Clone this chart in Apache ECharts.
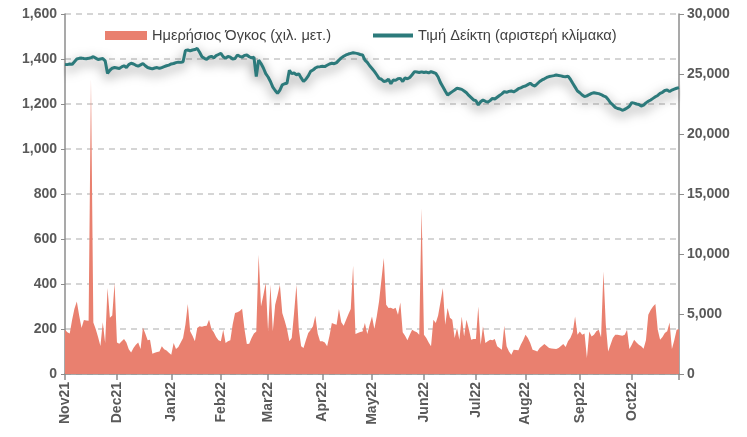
<!DOCTYPE html>
<html>
<head>
<meta charset="utf-8">
<script src="https://cdn.jsdelivr.net/npm/echarts@6/dist/echarts.min.js"></script>
<style>html,body{margin:0;padding:0;background:#fff}#c{width:747px;height:437px}</style>
</head>
<body>
<div id="c"></div>
<script>
// Month labels and trading days per month
const monthLabels = ['Nov21','Dec21','Jan22','Feb22','Mar22','Apr22','May22','Jun22','Jul22','Aug22','Sep22','Oct22'];
const monthDays = [22,23,21,20,23,21,22,22,21,23,22,21];

// Index price (left scale)
const indexNov21 = [1376,1375,1378,1376,1388,1400,1403,1404,1402,1401,1403,1406,1410,1404,1398,1400,1402,1392,1336,1350,1359,1362];
const indexDec21 = [1360,1358,1365,1370,1362,1375,1381,1378,1372,1368,1374,1380,1370,1362,1359,1356,1360,1362,1358,1362,1366,1370,1373];
const indexJan22 = [1378,1380,1384,1386,1385,1388,1438,1440,1436,1440,1442,1447,1430,1410,1403,1398,1408,1412,1405,1415,1420];
const indexFeb22 = [1425,1410,1403,1412,1408,1400,1402,1418,1412,1408,1416,1418,1410,1405,1408,1322,1395,1380,1360,1335];
const indexMar22 = [1320,1300,1275,1260,1247,1262,1285,1290,1292,1350,1335,1338,1330,1334,1316,1300,1310,1325,1345,1351,1360,1365,1366];
const indexApr22 = [1368,1366,1372,1378,1381,1379,1384,1395,1405,1412,1418,1422,1425,1428,1426,1424,1420,1418,1395,1385,1370];
const indexMay22 = [1358,1345,1330,1314,1310,1300,1302,1310,1290,1307,1305,1312,1314,1300,1316,1312,1318,1330,1344,1342,1340,1343];
const indexJun22 = [1340,1342,1338,1344,1340,1336,1320,1295,1277,1258,1240,1248,1255,1262,1270,1268,1265,1258,1250,1238,1228,1218];
const indexJul22 = [1215,1196,1210,1218,1212,1208,1215,1225,1222,1230,1238,1245,1255,1252,1256,1258,1254,1260,1268,1272,1277];
const indexAug22 = [1280,1286,1292,1284,1280,1290,1300,1307,1312,1318,1322,1324,1326,1329,1327,1325,1322,1321,1324,1310,1292,1275,1258];
const indexSep22 = [1250,1240,1233,1236,1242,1247,1250,1248,1246,1242,1236,1232,1220,1205,1196,1185,1180,1178,1172,1176,1182,1190];
const indexOct22 = [1206,1204,1200,1198,1191,1195,1205,1212,1218,1225,1232,1238,1247,1252,1260,1262,1255,1262,1266,1270,1273];

// Daily volume, thousand shares (right scale)
const volNov21 = [3690,3470,3380,4500,5440,6040,4880,3830,4500,4460,4430,24560,4290,3750,3090,2340,4310,2590,7160,4690,4880,7580];
const volDec21 = [2630,2530,2720,2910,2630,2060,1800,2160,2440,2630,2080,3880,3380,2810,2850,1690,1780,1840,1880,2310,2060,1950,1780];
const volJan22 = [1610,2590,2080,2250,2630,3000,4130,5830,3560,3190,2720,3830,3980,3940,3990,4030,4520,3750,3470,3090,2810];
const volFeb22 = [2720,3690,2590,2720,2810,4130,5080,5140,5250,5440,3750,2490,2530,3000,3380,3540,9940,5630,6560,7580];
const volMar22 = [3540,7440,3560,5780,6560,7440,5080,4460,3750,2720,3000,5080,7440,3750,2310,2160,2810,3410,3660,3980,4860,3380,2720];
const volApr22 = [2720,2630,2310,3190,4240,4160,4110,5420,4310,4030,4500,4970,5420,9020,3340,3410,3490,3540,4240,3340,4110];
const volMay22 = [4800,3750,4800,6060,7880,9660,5780,5490,5530,5420,5530,4930,5960,3470,3190,2810,3280,3690,3560,3470,3280,13820];
const volJun22 = [3280,3000,2630,2310,4520,4240,4880,6000,7160,4110,5490,4690,4520,3000,3830,2850,4800,3130,4520,3750,2850,2910];
const volJul22 = [2910,5630,2440,3980,2590,2720,2850,2810,2910,2310,2160,2030,4030,2310,1880,1610,2030,1990,1970,2440,2810];
const volAug22 = [3280,3000,2590,2030,1950,1880,2160,2340,2490,2340,2160,2120,2100,2080,2160,2340,2490,2250,2720,3000,3470,4800,3280];
const volSep22 = [3540,3280,3380,1330,3540,3130,3280,3560,3690,3060,8550,4130,1880,2440,3000,3280,3280,3230,3190,3280,3690,2080];
const volOct22 = [2440,2850,2630,2440,2310,2100,2810,4930,5340,5630,5830,3690,2850,3090,3410,3560,4290,2080,2810,3690,3750];

const leftTicks = {min:0, max:1600, interval:200};
const rightTicks = {min:0, max:30000, interval:5000};
const seriesNames = ['Ημερήσιος Όγκος (χιλ. μετ.)', 'Τιμή Δείκτη (αριστερή κλίμακα)'];

const indexValues = [].concat(indexNov21,indexDec21,indexJan22,indexFeb22,indexMar22,indexApr22,indexMay22,indexJun22,indexJul22,indexAug22,indexSep22,indexOct22);
const volValues = [].concat(volNov21,volDec21,volJan22,volFeb22,volMar22,volApr22,volMay22,volJun22,volJul22,volAug22,volSep22,volOct22);

const categories = [];
const monthStart = new Set();
monthLabels.forEach((m, mi) => {
  monthStart.add(categories.length);
  for (let d = 0; d < monthDays[mi]; d++) categories.push(m + '|' + d);
});
const lastIdx = categories.length - 1;

const axisGrey = '#8C8C8C';
const labelGrey = '#595959';
const font = 'Liberation Sans';
const volColor = '#E9806F';
const lineColor = '#2C7A7B';
const legendText = {fontFamily: font, fontSize: 14.6, color: '#404040'};

const chart = echarts.init(document.getElementById('c'), null, {renderer:'canvas'});
chart.setOption({
  animation: false,
  backgroundColor: '#fff',
  grid: {left: 65, right: 68, top: 14, bottom: 63, containLabel: false},
  legend: [
    {
      left: 100, top: 23, itemWidth: 42, itemHeight: 9, itemGap: 4, textStyle: legendText,
      data: [{name: seriesNames[0], icon: 'rect'}]
    },
    {
      left: 368, top: 23, itemWidth: 40, itemHeight: 4, textStyle: legendText,
      data: [{name: seriesNames[1], icon: 'rect', itemStyle: {color: lineColor}}]
    }
  ],
  xAxis: {
    type: 'category', data: categories, boundaryGap: false,
    axisLine: {lineStyle: {color: axisGrey, width: 1.5}},
    axisTick: {show: true, length: 6, lineStyle: {color: axisGrey, width: 1.5},
      interval: (i) => monthStart.has(i) || i === lastIdx},
    axisLabel: {rotate: 90, fontFamily: font, fontSize: 14, fontWeight: 'bold', color: labelGrey, margin: 8,
      interval: (i) => monthStart.has(i),
      formatter: (v) => v.split('|')[0]},
    splitLine: {show: false}
  },
  yAxis: [
    {
      type: 'value', position: 'left', min: leftTicks.min, max: leftTicks.max, interval: leftTicks.interval,
      axisLine: {show: true, lineStyle: {color: axisGrey, width: 1.5}},
      axisTick: {show: true, length: 4, lineStyle: {color: axisGrey}},
      axisLabel: {fontFamily: font, fontSize: 14, fontWeight: 'bold', color: labelGrey, margin: 8,
        formatter: (v) => v.toLocaleString('en-US')},
      splitLine: {show: true, lineStyle: {color: '#C8C8C8', width: 1.5, type: [6, 5]}}
    },
    {
      type: 'value', position: 'right', min: rightTicks.min, max: rightTicks.max, interval: rightTicks.interval,
      axisLine: {show: true, lineStyle: {color: axisGrey, width: 1.5}},
      axisTick: {show: true, length: 5, lineStyle: {color: axisGrey}},
      axisLabel: {fontFamily: font, fontSize: 14, fontWeight: 'bold', color: labelGrey, margin: 8,
        formatter: (v) => v.toLocaleString('en-US')},
      splitLine: {show: false}
    }
  ],
  series: [
    {
      name: seriesNames[0], type: 'line', yAxisIndex: 1, data: volValues,
      symbol: 'none', showSymbol: false,
      itemStyle: {color: volColor},
      lineStyle: {width: 0, color: volColor},
      areaStyle: {color: volColor, opacity: 1},
      z: 1
    },
    {
      name: seriesNames[1], type: 'line', yAxisIndex: 0, data: indexValues,
      symbol: 'none', showSymbol: false,
      itemStyle: {color: lineColor},
      lineStyle: {width: 3, color: lineColor, shadowColor: 'rgba(0,0,0,0.55)', shadowBlur: 12, shadowOffsetY: 4},
      z: 3
    }
  ]
});
</script>
</body>
</html>
